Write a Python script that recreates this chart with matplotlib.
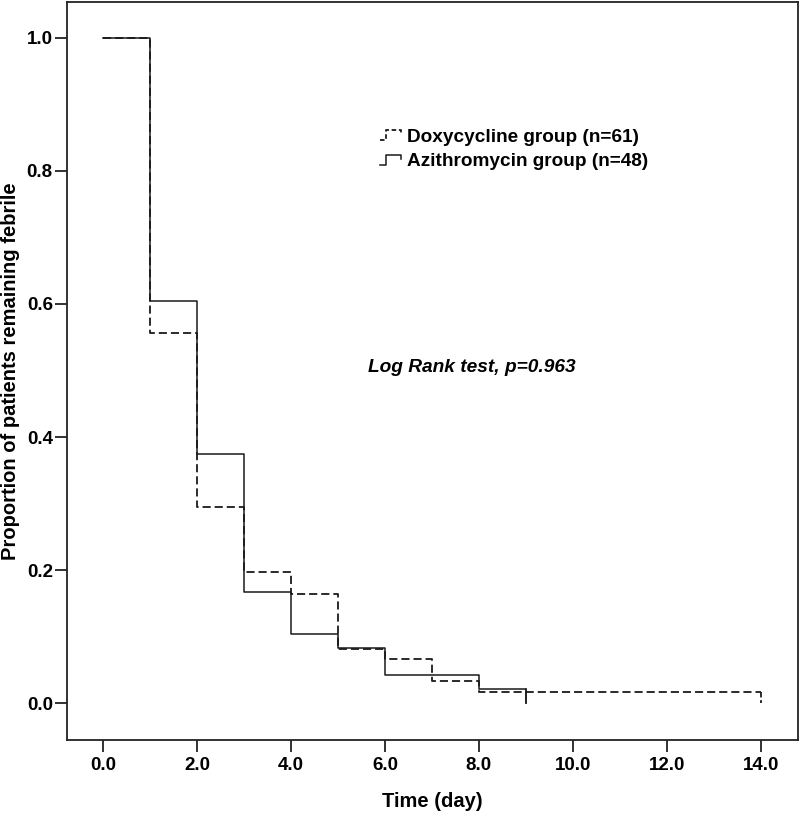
import matplotlib
matplotlib.use("Agg")
import matplotlib.pyplot as plt
from matplotlib.legend_handler import HandlerBase
from matplotlib.lines import Line2D

plt.rcParams['font.family'] = ['Liberation Sans', 'DejaVu Sans']
plt.rcParams['font.weight'] = 'bold'

# Kaplan-Meier estimates
doxy_time = [0, 1, 2, 3, 4, 5, 6, 7, 8, 14]
doxy_surv = [1.0, 0.557, 0.295, 0.197, 0.164, 0.082, 0.066, 0.033, 0.016, 0.016]
azi_time = [0, 1, 2, 3, 4, 5, 6, 8, 9]
azi_surv = [1.0, 0.604, 0.375, 0.167, 0.104, 0.083, 0.042, 0.021, 0.0]
doxy_censor = [14]

xticks = [0, 2, 4, 6, 8, 10, 12, 14]
yticks = [0.0, 0.2, 0.4, 0.6, 0.8, 1.0]

line_col = '#1a1a1a'


class StepHandler(HandlerBase):
    # little step glyph like the SPSS legend
    def create_artists(self, legend, orig_handle, xdescent, ydescent,
                       width, height, fontsize, trans):
        x0 = -xdescent
        y0 = -ydescent
        xs = [x0, x0 + width * 0.3, x0 + width * 0.3, x0 + width, x0 + width]
        ys = [y0 + height * 0.1, y0 + height * 0.1, y0 + height * 0.85,
              y0 + height * 0.85, y0 + height * 0.55]
        ln = Line2D(xs, ys, color=orig_handle.get_color(),
                    linestyle=orig_handle.get_linestyle(),
                    linewidth=orig_handle.get_linewidth(), transform=trans)
        if orig_handle.get_linestyle() == '--':
            ln.set_dashes((2.5, 1.5))
        return [ln]


fig = plt.figure(figsize=(8, 8.16), dpi=100)
ax = fig.add_axes([0.0834, 0.0931, 0.9141, 0.9044])

d, = ax.step(doxy_time, doxy_surv, where='post', color=line_col,
             linestyle='--', linewidth=1.3, dashes=(4.5, 2.2))
a, = ax.step(azi_time, azi_surv, where='post', color=line_col,
             linestyle='-', linewidth=1.1)
# final drop of the solid curve
ax.plot([azi_time[-1], azi_time[-1]], [azi_surv[-2], azi_surv[-1]],
        color=line_col, linewidth=1.1)
# censor tick on the dashed curve
for t in doxy_censor:
    ax.plot([t, t], [doxy_surv[-1], 0.0], color=line_col, linewidth=1.3,
            linestyle='--', dashes=(3, 1.5))

ax.set_xlim(-0.77, 14.79)
ax.set_ylim(-0.0556, 1.054)
ax.set_xticks(xticks)
ax.set_xticklabels(['%.1f' % v for v in xticks])
ax.set_yticks(yticks)
ax.set_yticklabels(['%.1f' % v for v in yticks])
ax.tick_params(direction='out', length=8.5, width=1.3, labelsize=13.5,
               color='#222222')
ax.tick_params(axis='x', pad=3.5)
ax.tick_params(axis='y', pad=1.5)
for s in ax.spines.values():
    s.set_linewidth(1.3)
    s.set_color('#222222')

ax.set_xlabel('Time (day)', fontsize=14.5, fontweight='bold', labelpad=13)
ax.set_ylabel('Proportion of patients remaining febrile', fontsize=14.5,
              fontweight='bold', labelpad=5)

d_handle = Line2D([], [], color=line_col, linestyle='--', linewidth=1.3)
a_handle = Line2D([], [], color=line_col, linestyle='-', linewidth=1.1)
ax.legend([d_handle, a_handle],
          ['Doxycycline group (n=61)', 'Azithromycin group (n=48)'],
          handler_map={Line2D: StepHandler()},
          loc='upper left', bbox_to_anchor=(0.428, 0.829), frameon=False,
          borderpad=0, borderaxespad=0, handlelength=1.1, handletextpad=0.35,
          labelspacing=0.38, prop={'size': 13.7, 'weight': 'bold'})

ax.text(5.64, 0.505, 'Log Rank test, p=0.963', fontsize=13.8,
        fontweight='bold', fontstyle='italic', ha='left', va='center')

fig.savefig('out.png', dpi=100)
